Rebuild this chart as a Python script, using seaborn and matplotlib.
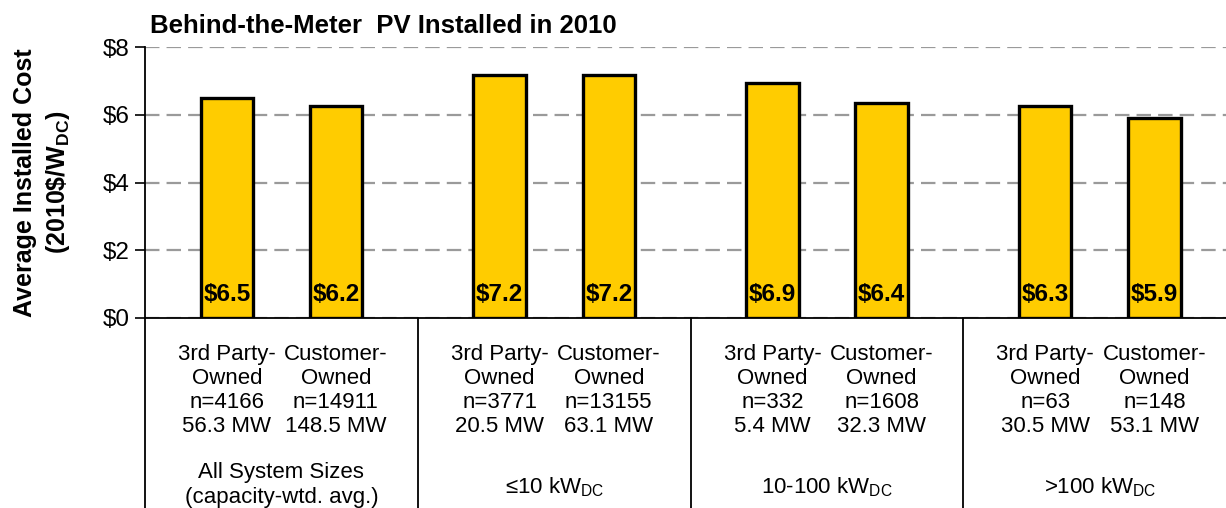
import matplotlib
matplotlib.use("Agg")
import matplotlib.pyplot as plt
import matplotlib.transforms as mtransforms
import pandas as pd
import seaborn as sns


GROUPS = ["All System Sizes\n(capacity-wtd. avg.)", "≤10 kW$_{DC}$", "10-100 kW$_{DC}$", ">100 kW$_{DC}$"]
OWNERS = ["3rd Party-\nOwned", "Customer-\nOwned"]
COST = [6.49, 6.25, 7.18, 7.18, 6.94, 6.35, 6.26, 5.90]
COST_LABELS = ["$6.5", "$6.2", "$7.2", "$7.2", "$6.9", "$6.4", "$6.3", "$5.9"]
COUNTS = [4166, 14911, 3771, 13155, 332, 1608, 63, 148]
CAPACITY_MW = [56.3, 148.5, 20.5, 63.1, 5.4, 32.3, 30.5, 53.1]
Y_TICKS = [0, 2, 4, 6, 8]
TITLE = "Behind-the-Meter  PV Installed in 2010"
OUTPUT_PATH = "out.png"

GROUP_STEP = 2.5
BAR_COLOR = "#FFCC00"


def build_frame():
    rows = []
    for i, cost in enumerate(COST):
        g, j = divmod(i, 2)
        rows.append({"pos": g * GROUP_STEP + j, "cost": cost, "group": GROUPS[g], "owner": OWNERS[j]})
    return pd.DataFrame(rows)


def main():
    sns.set_theme(style="white")
    plt.rcParams["font.family"] = ["Liberation Sans", "DejaVu Sans"]
    plt.rcParams["mathtext.fontset"] = "custom"
    plt.rcParams["mathtext.rm"] = "Liberation Sans"
    plt.rcParams["mathtext.it"] = "Liberation Sans"
    plt.rcParams["mathtext.bf"] = "Liberation Sans:bold"
    plt.rcParams["mathtext.default"] = "regular"
    for key in ["text.color", "axes.labelcolor", "xtick.color", "ytick.color"]:
        plt.rcParams[key] = "black"

    df = build_frame()

    fig = plt.figure(figsize=(12.26, 5.08), dpi=100)
    ax = fig.add_axes([145 / 1226, 190 / 508, 1 - 145 / 1226, 271 / 508])

    sns.barplot(data=df, x="pos", y="cost", native_scale=True, width=0.48,
                color=BAR_COLOR, saturation=1, edgecolor="black", linewidth=2.4, ax=ax, zorder=3)

    ax.set_xlim(-0.75, 9.156)
    ax.set_ylim(0, 8)
    ax.set_yticks(Y_TICKS)
    ax.set_yticklabels([f"${t}" for t in Y_TICKS], fontsize=17.5)
    ax.yaxis.grid(True, linestyle=(0, (6.5, 3.2)), color="#9a9a9a", linewidth=1.6, zorder=0)
    ax.set_xticks([])
    ax.set_xlabel("")
    ax.set_ylabel("Average Installed Cost\n(2010\\$/W$_{DC}$)", fontsize=18, fontweight="bold",
                  labelpad=22, linespacing=1.35)
    ax.tick_params(axis="y", which="major", direction="out", length=7, width=1.2, left=True, pad=4)

    for side in ["top", "right"]:
        ax.spines[side].set_visible(False)
    for side in ["left", "bottom"]:
        ax.spines[side].set_color("black")
        ax.spines[side].set_linewidth(1.3)

    ax.set_title(TITLE, loc="left", fontsize=18.5, fontweight="bold", x=0.005, pad=10)

    # bar value labels near the baseline
    for x, lab in zip(df["pos"], COST_LABELS):
        ax.text(x, 0.70, lab, ha="center", va="center", fontsize=17.5, fontweight="bold", zorder=4)

    trans = mtransforms.blended_transform_factory(ax.transData, ax.transAxes)

    # table-like separators below the axis
    for g in range(len(GROUPS)):
        xb = g * GROUP_STEP - 0.75
        ax.plot([xb, xb], [0, -0.75], transform=trans, color="black", linewidth=1.3, clip_on=False)

    for x, owner, n, mw in zip(df["pos"], OWNERS * len(GROUPS), COUNTS, CAPACITY_MW):
        ax.text(x, -0.097, f"{owner}\nn={n}\n{mw} MW", transform=trans, ha="center", va="top",
                fontsize=16, linespacing=1.19)

    for g, name in enumerate(GROUPS):
        xc = g * GROUP_STEP + 0.5
        if "\n" in name:
            ax.text(xc, -0.53, name, transform=trans, ha="center", va="top", fontsize=16, linespacing=1.3)
        else:
            ax.text(xc, -0.625, name, transform=trans, ha="center", va="center", fontsize=16)

    fig.savefig(OUTPUT_PATH, dpi=100)


if __name__ == "__main__":
    main()
